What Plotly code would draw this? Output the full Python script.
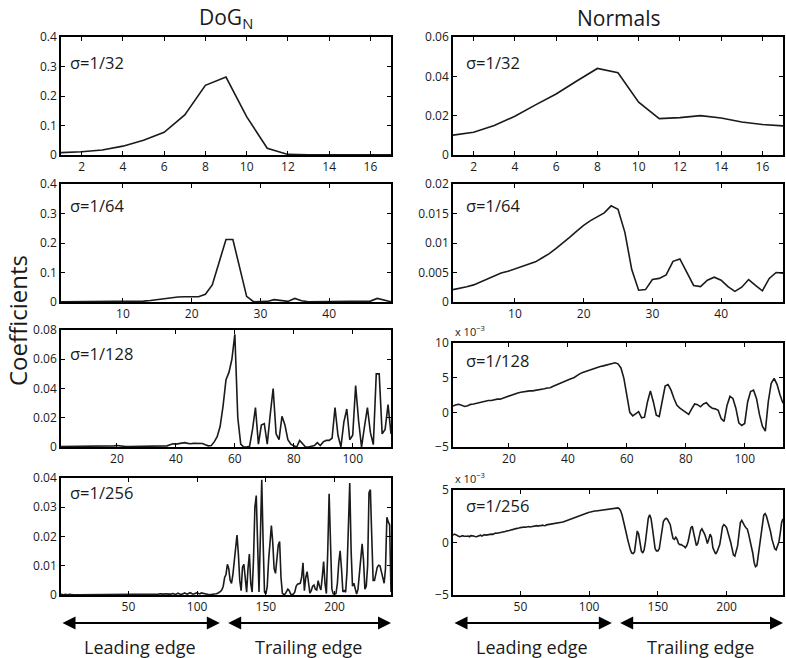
import plotly.graph_objects as go

W, H = 786, 658

# ---------------- data ----------------
dog_32 = [0.008, 0.011, 0.017, 0.030, 0.050, 0.077, 0.136, 0.236, 0.264, 0.130,
          0.023, 0.002, 0.001, 0.001, 0.0005, 0.0005, 0.0005]
nrm_32 = [0.0101, 0.0116, 0.0150, 0.0197, 0.0255, 0.0310, 0.0376, 0.0440, 0.0418, 0.0269,
          0.0185, 0.0190, 0.0200, 0.0188, 0.0168, 0.0155, 0.0148]

dog_64 = [0.001, 0.001, 0.001, 0.0015, 0.002, 0.002, 0.0015, 0.001, 0.0005, 0.0005,
          0.001, 0.002, 0.003, 0.005, 0.008, 0.011, 0.015, 0.017, 0.018, 0.018,
          0.018, 0.026, 0.058, 0.135, 0.212, 0.212, 0.115, 0.019, 0.001, 0.001,
          0.002, 0.008, 0.004, 0.002, 0.012, 0.004, 0.001, 0.001, 0.002, 0.002,
          0.001, 0.002, 0.001, 0.002, 0.001, 0.003, 0.012, 0.007, 0.001]
nrm_64 = [0.0021, 0.0023, 0.0026, 0.0029, 0.0034, 0.0039, 0.0045, 0.0049, 0.0052, 0.0056,
          0.0059, 0.0063, 0.0068, 0.0075, 0.0082, 0.0091, 0.0100, 0.0110, 0.0120, 0.0130,
          0.0138, 0.0145, 0.0151, 0.0163, 0.0157, 0.0118, 0.0055, 0.0020, 0.0021, 0.0038,
          0.0040, 0.0046, 0.0069, 0.0073, 0.0051, 0.0028, 0.0026, 0.0037, 0.0042, 0.0037,
          0.0026, 0.0018, 0.0025, 0.0038, 0.0028, 0.0019, 0.0040, 0.0050, 0.0049]

dog_128 = [0.0003, 0.0003, 0.0003, 0.0003, 0.0003, 0.0003, 0.0003, 0.0003, 0.0003, 0.0003,
           0.0003, 0.0003, 0.0003, 0.0003, 0.0003, 0.0003, 0.0003, 0.0005, 0.0008, 0.0010,
           0.0006, 0.0003, 0.0003, 0.0003, 0.0003, 0.0003, 0.0003, 0.0003, 0.0003, 0.0003,
           0.0003, 0.0003, 0.0006, 0.0008, 0.0008, 0.0006, 0.0008, 0.0015, 0.0022, 0.0020,
           0.0022, 0.0028, 0.0030, 0.0025, 0.0022, 0.0025, 0.0026, 0.0022, 0.0024, 0.0015,
           0.0008, 0.0010, 0.0035, 0.0070, 0.0140, 0.0280, 0.0460, 0.0510, 0.0600, 0.0770,
           0.0200, 0.0020, 0.0000, 0.0000, 0.0005, 0.0120, 0.0270, 0.0020, 0.0150, 0.0160,
           0.0020, 0.0220, 0.0400, 0.0090, 0.0050, 0.0210, 0.0150, 0.0050, 0.0020, 0.0008,
           0.0000, 0.0045, 0.0020, 0.0000, 0.0000, 0.0005, 0.0010, 0.0030, 0.0010, 0.0035,
           0.0045, 0.0045, 0.0060, 0.0270, 0.0080, 0.0000, 0.0170, 0.0260, 0.0050, 0.0080,
           0.0420, 0.0180, 0.0000, 0.0140, 0.0270, 0.0100, 0.0016, 0.0500, 0.0500, 0.0090,
           0.0120, 0.0290, 0.0090]
nrm_128 = [0.90, 1.10, 1.15, 1.00, 0.85, 0.95, 1.15, 1.20, 1.30, 1.35,
           1.50, 1.65, 1.70, 1.70, 1.85, 1.90, 1.90, 2.05, 2.25, 2.45,
           2.55, 2.70, 2.80, 2.90, 3.00, 3.05, 3.10, 3.10, 3.15, 3.25,
           3.35, 3.40, 3.50, 3.55, 3.75, 3.95, 4.10, 4.30, 4.45, 4.65,
           4.85, 5.00, 5.30, 5.55, 5.75, 5.90, 6.05, 6.20, 6.40, 6.50,
           6.60, 6.70, 6.80, 6.90, 7.05, 7.15, 7.00, 6.40, 4.90, 2.20,
           0.00, -0.50, -0.20, 0.10, -0.80, -0.70, 1.50, 3.10, 1.50, -0.40,
           -0.60, 1.80, 3.80, 4.00, 3.20, 2.00, 1.00, 0.60, 0.30, 0.00,
           -0.30, 0.50, 1.20, 1.10, 0.80, 1.20, 1.40, 0.90, 0.60, 0.50,
           0.30, -0.90, -1.30, 1.00, 2.30, 2.00, 0.60, -1.50, -1.90, -1.60,
           1.50, 3.00, 3.20, 2.00, -0.30, -2.00, -2.70, 1.50, 4.20, 4.90,
           4.00, 2.50, 1.30]

dog_256 = [0.0002, 0.0001, 0.0001, 0.0002, 0.0001, 0.0001, 0.0002, 0.0001, 0.0001, 0.0001,
           0.0001, 0.0002, 0.0001, 0.0001, 0.0001, 0.0002, 0.0001, 0.0001, 0.0001, 0.0001,
           0.0001, 0.0001, 0.0002, 0.0001, 0.0001, 0.0001, 0.0001, 0.0002, 0.0001, 0.0001,
           0.0001, 0.0001, 0.0001, 0.0002, 0.0001, 0.0001, 0.0001, 0.0002, 0.0001, 0.0001,
           0.0001, 0.0002, 0.0001, 0.0002, 0.0003, 0.0002, 0.0001, 0.0002, 0.0002, 0.0001,
           0.0002, 0.0003, 0.0002, 0.0001, 0.0002, 0.0002, 0.0003, 0.0002, 0.0001, 0.0002,
           0.0001, 0.0002, 0.0002, 0.0001, 0.0002, 0.0003, 0.0002, 0.0002, 0.0001, 0.0002,
           0.0002, 0.0003, 0.0004, 0.0003, 0.0002, 0.0003, 0.0004, 0.0003, 0.0002, 0.0003,
           0.0003, 0.0005, 0.0004, 0.0002, 0.0003, 0.0006, 0.0004, 0.0002, 0.0003, 0.0005,
           0.0007, 0.0004, 0.0003, 0.0006, 0.0008, 0.0005, 0.0003, 0.0004, 0.0006, 0.0008,
           0.0005, 0.0004, 0.0007, 0.0006, 0.0003, 0.0002, 0.0003, 0.0002, 0.0001, 0.0002,
           0.0002, 0.0003, 0.0002, 0.0004, 0.0006, 0.0008, 0.0012, 0.0018, 0.0030, 0.0060,
           0.0070, 0.0105, 0.0090, 0.0050, 0.0040, 0.0070, 0.0120, 0.0170, 0.0205, 0.0140,
           0.0050, 0.0015, 0.0095, 0.0105, 0.0060, 0.0010, 0.0090, 0.0140, 0.0040, 0.0010,
           0.0120, 0.0300, 0.0340, 0.0120, 0.0010, 0.0200, 0.0394, 0.0180, 0.0010, 0.0003,
           0.0030, 0.0120, 0.0200, 0.0237, 0.0180, 0.0090, 0.0074, 0.0120, 0.0170, 0.0183,
           0.0060, 0.0006, 0.0002, 0.0003, 0.0010, 0.0020, 0.0015, 0.0003, 0.0002, 0.0003,
           0.0010, 0.0030, 0.0037, 0.0040, 0.0040, 0.0060, 0.0110, 0.0015, 0.0060, 0.0080,
           0.0030, 0.0006, 0.0015, 0.0030, 0.0034, 0.0020, 0.0017, 0.0049, 0.0030, 0.0017,
           0.0060, 0.0114, 0.0040, 0.0005, 0.0150, 0.0346, 0.0180, 0.0020, 0.0004, 0.0003,
           0.0005, 0.0040, 0.0110, 0.0151, 0.0090, 0.0011, 0.0015, 0.0010, 0.0080, 0.0250,
           0.0383, 0.0150, 0.0030, 0.0040, 0.0025, 0.0003, 0.0020, 0.0080, 0.0140, 0.0175,
           0.0120, 0.0020, 0.0030, 0.0100, 0.0350, 0.0360, 0.0200, 0.0050, 0.0050, 0.0080,
           0.0095, 0.0102, 0.0100, 0.0080, 0.0060, 0.0040, 0.0090, 0.0266, 0.0250, 0.0240,
           0.0010]
nrm_256 = [0.70, 0.80, 0.75, 0.65, 0.60, 0.55, 0.60, 0.65, 0.60, 0.58,
           0.60, 0.62, 0.55, 0.65, 0.60, 0.62, 0.58, 0.55, 0.60, 0.65,
           0.70, 0.62, 0.68, 0.75, 0.70, 0.72, 0.80, 0.75, 0.80, 0.78,
           0.85, 0.90, 0.88, 0.90, 0.95, 0.92, 1.00, 0.98, 1.05, 1.10,
           1.10, 1.15, 1.20, 1.20, 1.25, 1.30, 1.35, 1.40, 1.38, 1.42,
           1.45, 1.42, 1.48, 1.45, 1.50, 1.52, 1.48, 1.50, 1.55, 1.52,
           1.58, 1.60, 1.55, 1.62, 1.60, 1.65, 1.62, 1.60, 1.68, 1.70,
           1.70, 1.72, 1.75, 1.78, 1.80, 1.85, 1.82, 1.88, 1.90, 1.92,
           1.95, 2.00, 2.05, 2.10, 2.15, 2.20, 2.25, 2.30, 2.35, 2.42,
           2.48, 2.52, 2.55, 2.60, 2.65, 2.70, 2.72, 2.78, 2.82, 2.88,
           2.90, 2.95, 2.98, 3.00, 3.00, 3.02, 3.05, 3.08, 3.10, 3.12,
           3.15, 3.15, 3.18, 3.20, 3.20, 3.22, 3.25, 3.28, 3.30, 3.35,
           3.30, 3.20, 3.00, 2.60, 2.10, 1.50, 0.90, 0.30, -0.30, -0.70,
           -1.00, -1.05, -0.90, 0.20, 1.10, 0.80, 0.00, -0.80, -1.00, -0.70,
           0.10, 1.20, 2.30, 2.65, 2.30, 1.40, 0.20, -0.60, -0.80, -0.80,
           -0.60, 0.40, 1.50, 2.00, 2.20, 2.30, 2.20, 2.00, 1.70, 1.00,
           0.40, 0.30, 0.50, 0.30, -0.10, -0.20, -0.20, -0.30, -0.35, -0.50,
           -0.30, 0.10, 0.80, 1.40, 1.55, 1.00, 0.50, -0.30, -0.10, 0.50,
           1.10, 1.30, 1.10, 0.80, 0.40, -0.10, 0.30, 0.80, 0.50, -0.50,
           -0.80, -1.10, -0.90, -0.50, -0.20, 0.60, 1.50, 1.70, 1.60, 1.40,
           1.00, 0.50, 0.00, -0.60, -1.20, -1.30, -0.80, -0.30, 0.80, 1.90,
           2.10, 1.80, 1.60, 1.40, 1.30, 0.80, 0.20, -0.15, -1.00, -1.90,
           -2.30, -2.20, -1.20, -0.20, 1.00, 2.00, 2.60, 2.75, 2.50, 2.00,
           1.60, 1.00, 0.30, -0.20, -0.60, -0.70, -0.40, 0.05, 0.90, 1.90,
           2.25]

sigma_labels = ["σ=1/32", "σ=1/64", "σ=1/128", "σ=1/256"]
col_titles = ["DoG<sub>N</sub>", "Normals"]

x_ticks = [[2, 4, 6, 8, 10, 12, 14, 16], [10, 20, 30, 40], [20, 40, 60, 80, 100], [50, 100, 150, 200]]
left_y = [(0, 0.4, [0, 0.1, 0.2, 0.3, 0.4], ["0", "0.1", "0.2", "0.3", "0.4"]),
          (0, 0.4, [0, 0.1, 0.2, 0.3, 0.4], ["0", "0.1", "0.2", "0.3", "0.4"]),
          (0, 0.08, [0, 0.02, 0.04, 0.06, 0.08], ["0", "0.02", "0.04", "0.06", "0.08"]),
          (0, 0.04, [0, 0.01, 0.02, 0.03, 0.04], ["0", "0.01", "0.02", "0.03", "0.04"])]
right_y = [(0, 0.06, [0, 0.02, 0.04, 0.06], ["0", "0.02", "0.04", "0.06"]),
           (0, 0.02, [0, 0.005, 0.01, 0.015, 0.02], ["0", "0.005", "0.01", "0.015", "0.02"]),
           (-5, 10, [-5, 0, 5, 10], ["−5", "0", "5", "10"]),
           (-5, 5, [-5, 0, 5], ["−5", "0", "5"])]

left_series = [dog_32, dog_64, dog_128, dog_256]
right_series = [nrm_32, nrm_64, nrm_128, nrm_256]

# ---------------- layout geometry (pixels) ----------------
col_x = [(61, 391), (453, 783)]
rows_left = [(37, 155), (184, 302), (330, 447), (478, 595)]
rows_right = [(37, 155), (184, 302), (343, 447), (490, 595)]
# sigma label vertical offset below the top of each panel (px)
sig_off_left = [25, 22, 23, 14]
sig_off_right = [25, 22, 17, 15]

FONT = "Open Sans, Lato, DejaVu Sans, sans-serif"
INK = "#1a1a1a"


def px(xp):
    return xp / W


def py(yp):
    return 1 - yp / H


fig = go.Figure()
layout = dict(width=W, height=H, margin=dict(l=0, r=0, t=0, b=0, autoexpand=False),
              template="none",
              paper_bgcolor="white", plot_bgcolor="white", showlegend=False,
              font=dict(family=FONT, size=12, color=INK))
annotations = []

idx = 0
for r in range(4):
    for c in range(2):
        idx += 1
        series = left_series[r] if c == 0 else right_series[r]
        ymin, ymax, yt, ytt = left_y[r] if c == 0 else right_y[r]
        top, bot = rows_left[r] if c == 0 else rows_right[r]
        x0, x1 = col_x[c]
        xs = list(range(1, len(series) + 1))
        xa = "x" if idx == 1 else f"x{idx}"
        ya = "y" if idx == 1 else f"y{idx}"
        fig.add_trace(go.Scatter(x=xs, y=series, mode="lines", xaxis=xa, yaxis=ya,
                                 line=dict(color=INK, width=1.6), hoverinfo="skip"))
        axis_common = dict(showline=True, linecolor="black", linewidth=1.6, mirror="allticks",
                           ticks="inside", ticklen=4, tickwidth=1, tickcolor="black",
                           showgrid=False, zeroline=False, automargin=False,
                           tickfont=dict(family=FONT, size=12, color=INK))
        layout["xaxis" if idx == 1 else f"xaxis{idx}"] = dict(
            axis_common, domain=[px(x0), px(x1)], range=[1, len(series)],
            tickmode="array", tickvals=x_ticks[r], anchor=ya)
        layout["yaxis" if idx == 1 else f"yaxis{idx}"] = dict(
            axis_common, domain=[py(bot), py(top)], range=[ymin, ymax],
            tickmode="array", tickvals=yt, ticktext=ytt, anchor=xa)
        off = sig_off_left[r] if c == 0 else sig_off_right[r]
        annotations.append(dict(text=sigma_labels[r], xref=f"{xa} domain", yref=f"{ya} domain",
                                x=(7 if c == 0 else 11) / (x1 - x0), y=1 - off / (bot - top),
                                xanchor="left", yanchor="middle", showarrow=False,
                                font=dict(family=FONT, size=16.5, color=INK)))
        if c == 1 and r >= 2:
            annotations.append(dict(text="x 10<sup>−3</sup>", xref=f"{xa} domain", yref=f"{ya} domain",
                                    x=0.0, y=1.02, xanchor="left", yanchor="bottom", showarrow=False,
                                    font=dict(family=FONT, size=11, color=INK)))

# column titles
for c in range(2):
    x0, x1 = col_x[c]
    annotations.append(dict(text=col_titles[c], xref="paper", yref="paper",
                            x=px((x0 + x1) / 2), y=py(18), xanchor="center", yanchor="middle",
                            showarrow=False, font=dict(family=FONT, size=21, color=INK)))

# y title
annotations.append(dict(text="Coefficients", xref="paper", yref="paper", x=px(17), y=py(321),
                        textangle=-90, xanchor="center", yanchor="middle", showarrow=False,
                        font=dict(family=FONT, size=24, color=INK)))

# leading / trailing edge arrows and labels (bottom row axes)
edge_split = [(1, 116.5), (121.5, 241)]
edge_names = ["Leading edge", "Trailing edge"]
for c, xa in enumerate(["x7", "x8"]):
    for (a, b), name in zip(edge_split, edge_names):
        annotations.append(dict(x=b, y=py(623), xref=xa, yref="paper",
                                ax=a, ay=0, axref=xa, ayref="pixel",
                                showarrow=True, arrowside="end+start",
                                arrowhead=2, startarrowhead=2, arrowsize=1.3, startarrowsize=1.3,
                                arrowwidth=2, arrowcolor="black", text=""))
        annotations.append(dict(x=(a + b) / 2, y=py(647), xref=xa, yref="paper",
                                text=name, showarrow=False, xanchor="center", yanchor="middle",
                                font=dict(family=FONT, size=18, color=INK)))

layout["annotations"] = annotations
fig.update_layout(**layout)
fig.write_html("out.html", config={"displayModeBar": False},
               post_script="document.body.style.margin='0';document.body.style.overflow='hidden';")
